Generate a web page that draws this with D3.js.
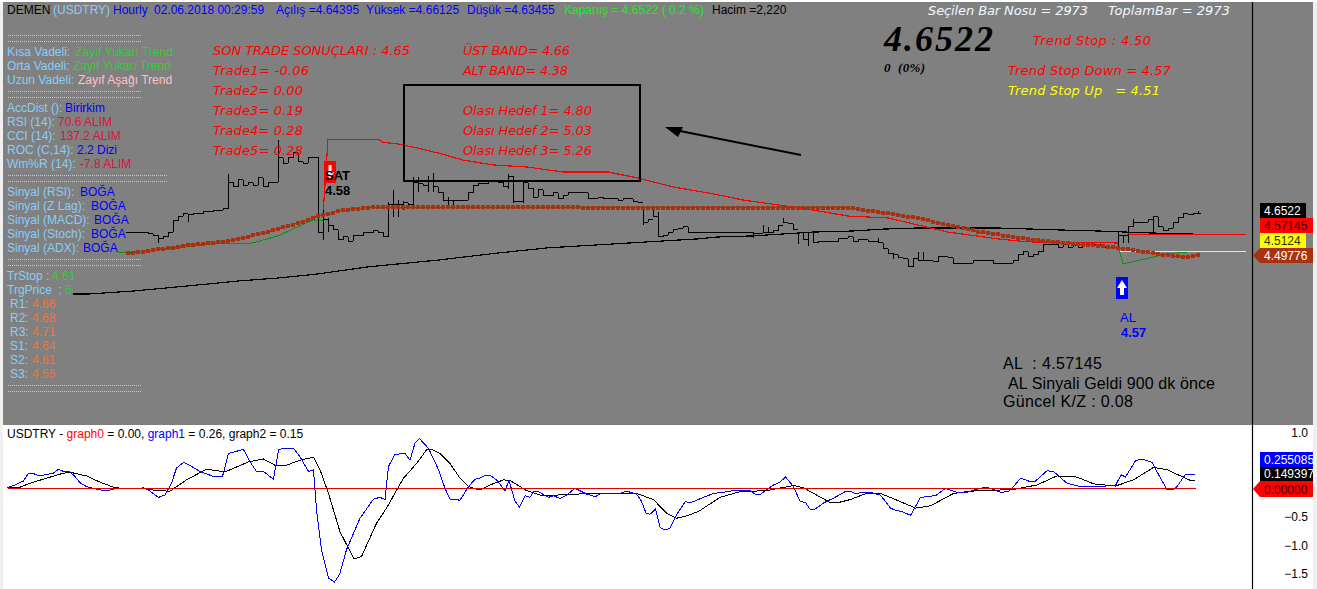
<!DOCTYPE html>
<html>
<head>
<meta charset="utf-8">
<script src="https://cdn.jsdelivr.net/npm/d3@7"></script>
<style>
  html, body { margin: 0; padding: 0; background: #f0f0f0; overflow: hidden; }
  text { font-family: "Liberation Sans", Arial, sans-serif; font-size: 12px; }
  .panel { font-size: 12px; }
  .trade { font-family: "DejaVu Sans", Verdana, sans-serif; font-style: italic; font-size: 13px; }
  .crisp { shape-rendering: crispEdges; fill: none; }
</style>
</head>
<body>
<div id="chart-area"></div>
<script>
// closing prices, one per bar, bar 0 is the first one drawn
const closes = [
  4.579,4.579,4.579,4.582,4.575,4.571,4.557,4.564,4.582,4.623,
  4.641,4.649,4.645,4.649,4.649,4.656,4.656,4.660,4.663,4.667,
  4.766,4.748,4.774,4.755,4.763,4.755,4.781,4.748,4.763,4.766,
  4.855,4.836,4.855,4.873,4.840,4.836,4.855,4.858,4.582,4.627,
  4.608,4.590,4.553,4.564,4.549,4.568,4.568,4.579,4.579,4.586,
  4.582,4.564,4.682,4.682,4.682,4.689,4.685,4.766,4.759,4.752,
  4.770,4.748,4.729,4.700,4.700,4.700,4.700,4.700,4.726,4.752,
  4.759,4.759,4.770,4.770,4.766,4.748,4.788,4.696,4.696,4.763,
  4.744,4.711,4.737,4.718,4.715,4.726,4.704,4.718,4.726,4.729,
  4.729,4.726,4.707,4.707,4.711,4.707,4.704,4.704,4.700,4.704,
  4.704,4.693,4.689,4.619,4.630,4.638,4.564,4.571,4.582,4.593,
  4.597,4.601,4.579,4.579,
  4.582,4.582,4.582,4.582,4.582,4.582,4.579,4.582,4.582,4.579,
  4.582,4.575,4.575,4.579,4.579,4.586,4.608,4.616,4.612,4.593,
  4.579,4.553,4.579,4.542,4.546,4.549,4.549,4.546,4.560,4.560,
  4.564,4.546,4.553,4.553,4.549,4.549,4.542,4.520,4.505,4.498,
  4.487,4.483,4.454,4.483,4.479,4.476,4.476,4.472,4.491,4.491,
  4.487,4.468,4.468,4.468,4.468,4.476,4.476,4.479,4.479,4.468,
  4.468,4.465,4.468,4.476,4.498,4.509,4.491,4.498,4.509,4.535,
  4.538,4.538,4.527,4.538,4.527,4.531,4.527,4.535,4.535,4.535,
  4.535,4.527,4.527,4.527,
  4.571,4.571,4.601,4.619,4.616,4.619,4.630,4.638,4.601,4.586,
  4.597,4.616,4.634,4.649,4.645,4.649,4.652
];

// bars whose high/low reach past the open-close span: [bar, high, low]
const wicks = [
  [6,4.571,4.542],[12,4.649,4.619],[20,4.796,4.667],[30,4.921,4.766],[38,4.858,4.582],
  [39,4.663,4.553],[40,4.634,4.582],[52,4.693,4.564],[53,4.737,4.638],[54,4.700,4.638],
  [55,4.696,4.663],[57,4.785,4.678],[58,4.785,4.729],[60,4.788,4.729],[61,4.799,4.729],
  [64,4.711,4.682],[65,4.700,4.682],[76,4.796,4.741],[77,4.788,4.689],[79,4.763,4.689],
  [103,4.674,4.608],[105,4.663,4.638],[106,4.656,4.564],[125,4.582,4.560],[127,4.608,4.579],
  [128,4.601,4.579],[131,4.634,4.616],[134,4.582,4.538],[136,4.579,4.531],[150,4.560,4.542],
  [153,4.505,4.483],[158,4.509,4.479],[159,4.509,4.476],[198,4.582,4.527],[199,4.571,4.542],
  [200,4.601,4.542],[201,4.630,4.601],[205,4.638,4.582],[214,4.660,4.652]
];

// brown dotted average, one per bar
const brownDots = [
  4.505,4.505,4.509,4.509,4.513,4.516,4.520,4.520,4.524,4.524,
  4.527,4.531,4.535,4.535,4.538,4.538,4.542,4.542,4.546,4.546,
  4.549,4.553,4.557,4.560,4.564,4.571,4.575,4.579,4.582,4.590,
  4.593,4.601,4.604,4.608,4.616,4.619,4.627,4.634,4.641,4.645,
  4.649,4.652,4.660,4.663,4.663,4.667,4.667,4.671,4.671,4.674,
  4.674,4.674,4.674,4.674,4.674,4.674,4.674,4.674,4.674,4.674,
  4.674,4.674,4.674,4.674,4.674,4.674,4.674,4.674,4.674,4.674,
  4.674,4.674,4.674,4.674,4.674,4.674,4.674,4.674,4.674,4.674,
  4.674,4.674,4.674,4.674,4.674,4.674,4.674,4.674,4.674,4.674,
  4.674,4.671,4.671,4.671,4.671,4.671,4.671,4.671,4.671,4.671,
  4.671,4.671,4.671,4.671,4.671,4.671,4.671,4.671,4.671,4.671,
  4.671,4.671,4.671,4.671,4.671,4.671,4.671,4.671,4.671,4.671,
  4.671,4.671,4.671,4.671,4.671,4.671,4.671,4.671,4.671,4.671,
  4.671,4.671,4.671,4.671,4.671,4.671,4.671,4.671,4.671,4.671,
  4.671,4.671,4.671,4.671,4.671,4.669,4.667,4.663,4.660,4.660,
  4.656,4.652,4.652,4.649,4.645,4.641,4.638,4.638,4.634,4.630,
  4.627,4.619,4.616,4.612,4.608,4.604,4.601,4.597,4.593,4.590,
  4.582,4.582,4.579,4.575,4.575,4.568,4.568,4.564,4.560,4.560,
  4.557,4.553,4.553,4.549,4.549,4.546,4.546,4.542,4.542,4.538,
  4.538,4.535,4.535,4.535,4.531,4.531,4.527,4.527,4.524,4.520,
  4.520,4.516,4.513,4.509,4.509,4.505,4.502,4.498,4.498,4.494,
  4.494,4.491,4.491,4.494,4.498
];

// polylines read as [bar, price]
const trendDown = [
  [39,4.645],[40,4.924],[50,4.924],[51,4.913],[52,4.910],[54,4.906],[58,4.891],[62,4.873],
  [67,4.847],[73,4.829],[80,4.821],[87,4.803],[96,4.803],[102,4.781],[109,4.748],[116,4.726],
  [123,4.700],[130,4.682],[137,4.663],[144,4.641],[152,4.634],[158,4.608],[164,4.582],
  [174,4.557],[180,4.546],[198,4.542]
];
const greenFirst = [[-2,4.505],[1,4.509],[8,4.520],[17,4.538],[25,4.542],[30,4.568],[37,4.627],[39,4.623]];
const greenSecond = [[198,4.531],[199,4.465],[206,4.494],[210,4.507],[212,4.509]];
const longAverage = [
  [-11,4.354],[-8,4.354],[1,4.365],[8,4.377],[16,4.391],[22,4.402],[30,4.413],[38,4.428],
  [48,4.454],[62,4.479],[74,4.505],[84,4.524],[94,4.535],[104,4.546],[114,4.557],[118,4.564],
  [125,4.568],[137,4.582],[145,4.586],[151,4.593],[158,4.597],[174,4.597],[186,4.590],
  [194,4.586],[204,4.579],[213,4.575]
];

// lower panel
const graph1 = [
  [-24.1,.02],[-22.6,.07],[-20.9,.14],[-19.9,.28],[-18.9,.27],[-17.6,.23],[-14.9,.28],[-13.9,.35],
  [-12.9,.31],[-11.6,.30],[-10.6,.22],[-9.6,.11],[-8.3,.04],[-6.6,0],[-5.3,-.02],[-3.6,-.02],
  [-2.3,.01],[.4,.01],[2.4,.01],[3.1,.02],[4.1,-.02],[6.1,-.15],[7.4,-.11],[8.7,.10],[9.7,.37],
  [11.1,.47],[12.7,.40],[14.4,.31],[17.1,.22],[18.9,.22],[20.1,.63],[21.4,.66],[23.1,.70],
  [24.4,.48],[25.7,.31],[27.1,.31],[29.1,.17],[30.1,.69],[31.1,.72],[33.1,.72],[34.4,.57],
  [36.1,.31],[37.1,.34],[37.7,-.37],[38.7,-1.08],[40.1,-1.58],[41.3,-1.65],[42.3,-1.52],
  [43.7,-1.08],[46.4,-.52],[49.1,-.18],[50.4,-.15],[51.4,-.19],[52.1,.40],[53.4,.61],[55.4,.63],
  [56.4,.51],[57.4,.81],[58.3,.89],[60.1,.72],[62.1,.34],[63.4,.01],[64.4,-.18],[66.4,-.20],
  [68.1,.04],[69.4,.17],[70.4,.19],[71.4,.24],[72.4,.24],[73.7,.16],[75.4,-.03],[76.2,.15],
  [77.4,-.22],[78.3,-.32],[79.4,-.12],[80.4,-.15],[81.1,-.05],[82.1,-.05],[84.1,-.15],[85.1,-.12],
  [86.4,-.17],[87.7,-.11],[89.4,.01],[91.7,-.09],[93.4,-.14],[94.4,-.09],[95.7,-.09],[98.4,-.08],
  [99.7,-.04],[101.7,-.09],[102.7,-.22],[103.6,-.43],[104.4,-.45],[105.5,-.36],[106.4,-.68],
  [107.4,-.73],[108.4,-.70],[109.7,-.46],[111.5,-.22],[112.4,-.25],[115.1,-.15],[117.1,-.08],
  [119.1,-.06],[121.1,-.03],[124.4,-.03],[125.4,-.09],[126.4,-.10],[128.1,.01],[129.1,.07],
  [130.4,.12],[131.5,.21],[133.1,.04],[134.4,-.22],[135.5,-.24],[136.4,-.36],[137.4,-.36],
  [139.1,-.25],[141.4,-.15],[143.4,-.05],[144.4,-.04],[145.7,-.09],[146.7,-.06],[148.4,-.06],
  [150.5,-.11],[152.5,-.34],[153.5,-.38],[154.8,-.40],[156.5,-.47],[158.5,-.15],[161.5,-.12],
  [163.5,.01],[165.8,-.06],[167.8,-.06],[169.1,-.02],[171.5,.03],[172.5,.01],[174.5,-.06],
  [176.1,-.05],[177.1,.04],[178.5,.19],[180.1,.14],[181.5,.14],[183.8,.32],[185.1,.31],[187.8,.10],
  [190.5,.04],[193.1,.04],[197.5,.06],[198.6,.25],[199.5,.21],[201.5,.50],[202.8,.53],[204.8,.47],
  [206.5,.19],[207.8,-.01],[208.8,-.02],[209.8,.04],[211.5,.26],[213.5,.255]
];
const graph2 = [
  [-24.1,.02],[-21.6,.03],[-19.6,.10],[-16.3,.19],[-12.9,.28],[-11.3,.29],[-8.3,.23],[-5.6,.12],
  [-2.6,.02],[1.1,0],[3.1,.01],[5.7,-.03],[8.4,-.04],[11.7,.16],[15.7,.35],[19.4,.30],[24.1,.48],
  [27.1,.53],[29.4,.42],[31.7,.42],[34.4,.51],[37.1,.56],[38.4,.34],[40.1,-.08],[42.4,-.76],
  [45.2,-1.24],[46.7,-1.20],[49.7,-.61],[51.7,-.34],[55.1,.19],[57.7,.45],[59.7,.69],[60.7,.70],
  [62.4,.63],[64.4,.45],[66.4,.19],[68.1,.04],[70.4,-.02],[72.4,.07],[75.1,.16],[76.4,.15],
  [79.7,-.03],[82.4,-.11],[85.7,-.11],[90.4,-.09],[95.7,-.08],[99.7,-.09],[101.7,-.08],[105.1,-.19],
  [107.7,-.43],[109.7,-.52],[111.7,-.48],[114.1,-.40],[118.4,-.15],[122.4,-.05],[127.7,-.03],
  [133.1,.06],[135.1,.02],[140.4,-.24],[141.7,-.25],[144.4,-.19],[147.7,-.08],[150.5,-.08],
  [153.5,-.19],[157.5,-.34],[160.5,-.30],[165.1,-.08],[168.5,-.04],[177.1,-.01],[181.8,.07],
  [185.8,.23],[189.8,.21],[193.1,.09],[197.5,.05],[201.1,.16],[205.1,.38],[207.8,.34],[212.5,.15],
  [213.5,.149]
];
// the 0.5 and 0.0 ticks sit behind the value tags, so only these show
const lowerTicks = [1, -0.5, -1, -1.5];

// price tags on the right
const stopDownPrice = 4.57145, stopUpPrice = 4.5124;
const upperTags = ["4.6522", "4.57145", "4.5124", "4.49776"];
const lowerTags = ["0.255085", "0.149397", "0.00000"];

const lightBlue = "#87cefa", green = "#32cd32", lime = "#22e822", blue = "#0000ff", red = "#ff0000",
      crimson = "#dc143c", orange = "#f4703a", pink = "#ffc0cb", brown = "#a8320f";

const width = 1317, height = 589;

const svg = d3.select("#chart-area").append("svg")
  .attr("width", width)
  .attr("height", height)
  .style("display", "block");

// background panels
svg.append("rect").attr("x", 3).attr("y", 2).attr("width", 1310).attr("height", 421).attr("fill", "#808080");
svg.append("rect").attr("x", 3).attr("y", 423).attr("width", 1310).attr("height", 166).attr("fill", "#ffffff");
svg.append("rect").attr("x", 0).attr("y", 0).attr("width", width).attr("height", 2).attr("fill", "#ffffff");

const x = d3.scaleLinear().domain([0, 214]).range([128, 1198]);
const y = d3.scaleLinear().domain([4.6522, 4.5124]).range([213, 251]);
const yLow = d3.scaleLinear().domain([1, -1.5]).range([432.5, 573.5]);

const line = d3.line().x(d => x(d[0])).y(d => y(d[1]));
const lineLow = d3.line().x(d => x(d[0])).y(d => yLow(d[1]));

const drawLine = (data, gen, color, w) => {
  svg.append("path")
    .attr("class", "crisp")
    .attr("d", gen(data))
    .attr("stroke", color)
    .attr("stroke-width", w || 1);
};

const label = (px, py, txt, color, cls) => {
  return svg.append("text")
    .attr("x", px).attr("y", py)
    .attr("class", cls || "panel")
    .attr("fill", color)
    .attr("xml:space", "preserve")
    .style("white-space", "pre")
    .text(txt);
};

// long average, then the trend stop lines
drawLine(longAverage, line, "#000000", 1.2);
drawLine(greenFirst, line, "#109010", 1);
drawLine(greenSecond, line, "#109010", 1);
drawLine(trendDown, line, red, 1.2);

const redStart = 199.8, yellowStart = 198.4, stopEnd = 223.6;
drawLine([[redStart, stopDownPrice], [stopEnd, stopDownPrice]], line, red, 1);
drawLine([[yellowStart, stopUpPrice], [stopEnd, stopUpPrice]], line, "#ffff00", 1);

// price bars
const wickByBar = new Map(wicks.map(w => [w[0], w]));
svg.append("g").selectAll("path")
  .data(closes)
  .join("path")
  .attr("class", "crisp")
  .attr("stroke", "#000000")
  .attr("stroke-width", 1)
  .attr("d", (c, i) => {
    const open = i ? closes[i - 1] : c;
    const w = wickByBar.get(i);
    const hi = w ? w[1] : Math.max(open, c);
    const lo = w ? w[2] : Math.min(open, c);
    const px = x(i);
    return "M" + px + "," + y(hi) + "V" + y(lo) +
      "M" + (px - 2.5) + "," + y(open) + "H" + px +
      "M" + px + "," + y(c) + "H" + (px + 2.5);
  });

// brown dots
svg.append("path")
  .attr("class", "crisp")
  .attr("d", d3.line().x((d, i) => x(i)).y(d => y(d))(brownDots))
  .attr("stroke", brown);
svg.append("g").selectAll("rect")
  .data(brownDots)
  .join("rect")
  .attr("x", (d, i) => Math.round(x(i)) - 2)
  .attr("y", d => Math.round(y(d)) - 2)
  .attr("width", 4)
  .attr("height", 4)
  .attr("fill", brown);

// hand drawn box and arrow
svg.append("rect").attr("x", 404).attr("y", 85).attr("width", 236).attr("height", 96)
  .attr("fill", "none").attr("stroke", "#000000").attr("stroke-width", 2);
svg.append("line").attr("x1", 801).attr("y1", 155).attr("x2", 675).attr("y2", 130)
  .attr("stroke", "#000000").attr("stroke-width", 2);
svg.append("path").attr("d", "M665,127L683,127L678,137Z").attr("fill", "#000000");

// sell marker
svg.append("rect").attr("x", 324).attr("y", 161).attr("width", 12).attr("height", 22).attr("fill", red);
svg.append("path").attr("d", "M328.5,165H331.5V172H334L330,179L326,172H328.5Z").attr("fill", "#ffffff");
label(325, 180, "SAT", "#000000").style("font-weight", "bold").style("font-size", "13px");
label(325, 195, "4.58", "#000000").style("font-weight", "bold").style("font-size", "13px");

// buy marker
svg.append("rect").attr("x", 1116).attr("y", 277).attr("width", 12).attr("height", 22).attr("fill", blue);
svg.append("path").attr("d", "M1122,280L1127,288H1124V295H1120V288H1117Z").attr("fill", "#ffffff");
label(1120, 322, "AL", blue).style("font-size", "13px");
label(1121, 337, "4.57", blue).style("font-weight", "bold").style("font-size", "13px");

// header row
[[7, "DEMEN", "#000000"], [53, "(USDTRY)", lightBlue], [113, "Hourly", blue],
 [154, "02.06.2018 00:29:59", blue], [276, "Açılış =4.64395", blue], [366, "Yüksek =4.66125", blue],
 [467, "Düşük =4.63455", blue], [564, "Kapanış = 4.6522 ( 0.2 %)", lime], [712, "Hacim =2,220", "#000000"]
].forEach(d => label(d[0], 14, d[1], d[2]));

// left info column
const rows = [
  [56, 7, "Kısa Vadeli:", lightBlue, 75, "Zayıf Yukarı Trend", green],
  [70, 7, "Orta Vadeli:", lightBlue, 73, "Zayıf Yukarı Trend", green],
  [84, 7, "Uzun Vadeli:", lightBlue, 78, "Zayıf Aşağı Trend", pink],
  [112, 7, "AccDist ():", lightBlue, 65, "Birirkim", blue],
  [126, 7, "RSI (14):", lightBlue, 58, "70.6 ALIM", crimson],
  [140, 7, "CCI (14):", lightBlue, 60, "137.2 ALIM", crimson],
  [154, 7, "ROC (C,14):", lightBlue, 77, "2.2 Dizi", blue],
  [168, 7, "Wm%R (14):", lightBlue, 80, "-7.8 ALIM", crimson],
  [196, 7, "Sinyal (RSI):", lightBlue, 80, "BOĞA", blue],
  [210, 7, "Sinyal (Z Lag):", lightBlue, 91, "BOĞA", blue],
  [224, 7, "Sinyal (MACD):", lightBlue, 94, "BOĞA", blue],
  [238, 7, "Sinyal (Stoch):", lightBlue, 91, "BOĞA", blue],
  [252, 7, "Sinyal (ADX):", lightBlue, 83, "BOĞA", blue],
  [280, 7, "TrStop :", lightBlue, 52, "4.61", green],
  [294, 7, "TrgPrice  :", lightBlue, 65, "5", green],
  [308, 10, "R1:", lightBlue, 32, "4.66", orange],
  [322, 10, "R2:", lightBlue, 32, "4.68", orange],
  [336, 10, "R3:", lightBlue, 32, "4.71", orange],
  [350, 10, "S1:", lightBlue, 32, "4.64", orange],
  [364, 10, "S2:", lightBlue, 32, "4.61", orange],
  [378, 10, "S3:", lightBlue, 32, "4.55", orange]
];
rows.forEach(r => {
  label(r[1], r[0], r[2], r[3]);
  label(r[4], r[0], r[5], r[6]);
});

// dotted separators
[[35, 141], [41, 141], [91, 141], [97, 141], [175, 168], [181, 168], [259, 141], [265, 141], [385, 141], [391, 141]]
  .forEach(d => {
    svg.append("line").attr("x1", 8).attr("x2", d[1]).attr("y1", d[0] + 0.5).attr("y2", d[0] + 0.5)
      .attr("stroke", "#c8c8c8").attr("stroke-dasharray", "1,1");
  });

// red trade notes
[[213, 55, "SON TRADE SONUÇLARI : 4.65", 197], [213, 75, "Trade1= -0.06", 96], [213, 95, "Trade2= 0.00", 90],
 [213, 115, "Trade3= 0.19", 90], [213, 135, "Trade4= 0.28", 90], [213, 155, "Trade5= 0.28", 90],
 [463, 55, "ÜST BAND= 4.66", 107], [463, 75, "ALT BAND= 4.38", 105],
 [463, 115, "Olası Hedef 1= 4.80", 129], [463, 135, "Olası Hedef 2= 5.03", 129], [463, 155, "Olası Hedef 3= 5.26", 129],
 [1033, 45, "Trend Stop : 4.50", 118], [1008, 75, "Trend Stop Down = 4.57", 163]
].forEach(d => label(d[0], d[1], d[2], red, "trade").attr("textLength", d[3]));
label(1008, 95, "Trend Stop Up   = 4.51", "#ffff00", "trade").attr("textLength", 152);
label(928, 15, "Seçilen Bar Nosu = 2973", "#f0f8ff", "trade").attr("textLength", 160);
label(1108, 15, "ToplamBar = 2973", "#f0f8ff", "trade").attr("textLength", 122);

// big close price
label(884, 51, "4.6522", "#000000")
  .style("font-family", "'Liberation Serif', serif").style("font-weight", "bold")
  .style("font-style", "italic").style("font-size", "36px").attr("textLength", 109);
label(884, 72, "0  (0%)", "#000000")
  .style("font-family", "'Liberation Serif', serif").style("font-weight", "bold")
  .style("font-style", "italic").style("font-size", "13px").attr("textLength", 41);

// signal summary
[[1003, 369, "AL  : 4.57145", 99], [1008, 389, "AL Sinyali Geldi 900 dk önce", 207], [1003, 407, "Güncel K/Z : 0.08", 130]]
  .forEach(d => label(d[0], d[1], d[2], "#000000").style("font-size", "16px").attr("textLength", d[3]));

// lower panel
svg.append("line").attr("x1", 3).attr("x2", 1313).attr("y1", 424).attr("y2", 424)
  .attr("stroke", "#000000").attr("stroke-width", 1);

drawLine(graph2, lineLow, "#000000", 1);
drawLine(graph1, lineLow, blue, 1);
drawLine([[-24.1, 0], [213.5, 0]], lineLow, "#e00000", 1);

let legendX = 7;
[["USDTRY - ", "#000000"], ["graph0", red], [" = 0.00, ", "#000000"], ["graph1", blue],
 [" = 0.26, graph2 = 0.15", "#000000"]].forEach(d => {
  const t = label(legendX, 438, d[0], d[1]);
  legendX += t.node().getComputedTextLength();
});

// axis line and lower ticks
svg.append("line").attr("x1", 1252.5).attr("x2", 1252.5).attr("y1", 2).attr("y2", 589)
  .attr("stroke", "#000000").attr("stroke-width", 1.2);

const yAxisCall = d3.axisRight(yLow).tickValues(lowerTicks).tickSize(0).tickFormat(d3.format(".1f"));
const yAxisGroup = svg.append("g").attr("transform", "translate(1252,0)").call(yAxisCall);
yAxisGroup.select(".domain").remove();
yAxisGroup.selectAll("text")
  .attr("x", 56)
  .attr("text-anchor", "end")
  .attr("fill", "#000000")
  .style("font-family", "'Liberation Sans', sans-serif")
  .style("font-size", "12px");

// tags
const tag = (px, py, w, h, fill, txt, color, pointer) => {
  if (pointer) {
    svg.append("path")
      .attr("d", "M" + (px - 7) + "," + (py + h / 2) + "L" + px + "," + py + "V" + (py + h) + "Z")
      .attr("fill", fill);
  }
  svg.append("rect").attr("x", px).attr("y", py).attr("width", w).attr("height", h).attr("fill", fill);
  label(px + 4, py + h - 3, txt, color).style("font-size", "12px");
};
tag(1260, 203, 46, 15, "#000000", upperTags[0], "#ffffff");
tag(1260, 218, 53, 15, red, upperTags[1], "#400000");
tag(1260, 233, 46, 15, "#ffff00", upperTags[2], "#303000");
tag(1260, 248, 53, 15, brown, upperTags[3], "#ffffff", true);
tag(1260, 452, 53, 15, blue, lowerTags[0], "#ffffff");
tag(1260, 467, 53, 14, "#000000", lowerTags[1], "#ffffff");
tag(1260, 481, 53, 16, red, lowerTags[2], "#400000", true);

// window edges, drawn last so the tag text gets cut like the original
svg.append("rect").attr("x", 0).attr("y", 2).attr("width", 3).attr("height", height - 2).attr("fill", "#f0f0f0");
svg.append("rect").attr("x", 1313).attr("y", 2).attr("width", 4).attr("height", height - 2).attr("fill", "#f0f0f0");
</script>
</body>
</html>
